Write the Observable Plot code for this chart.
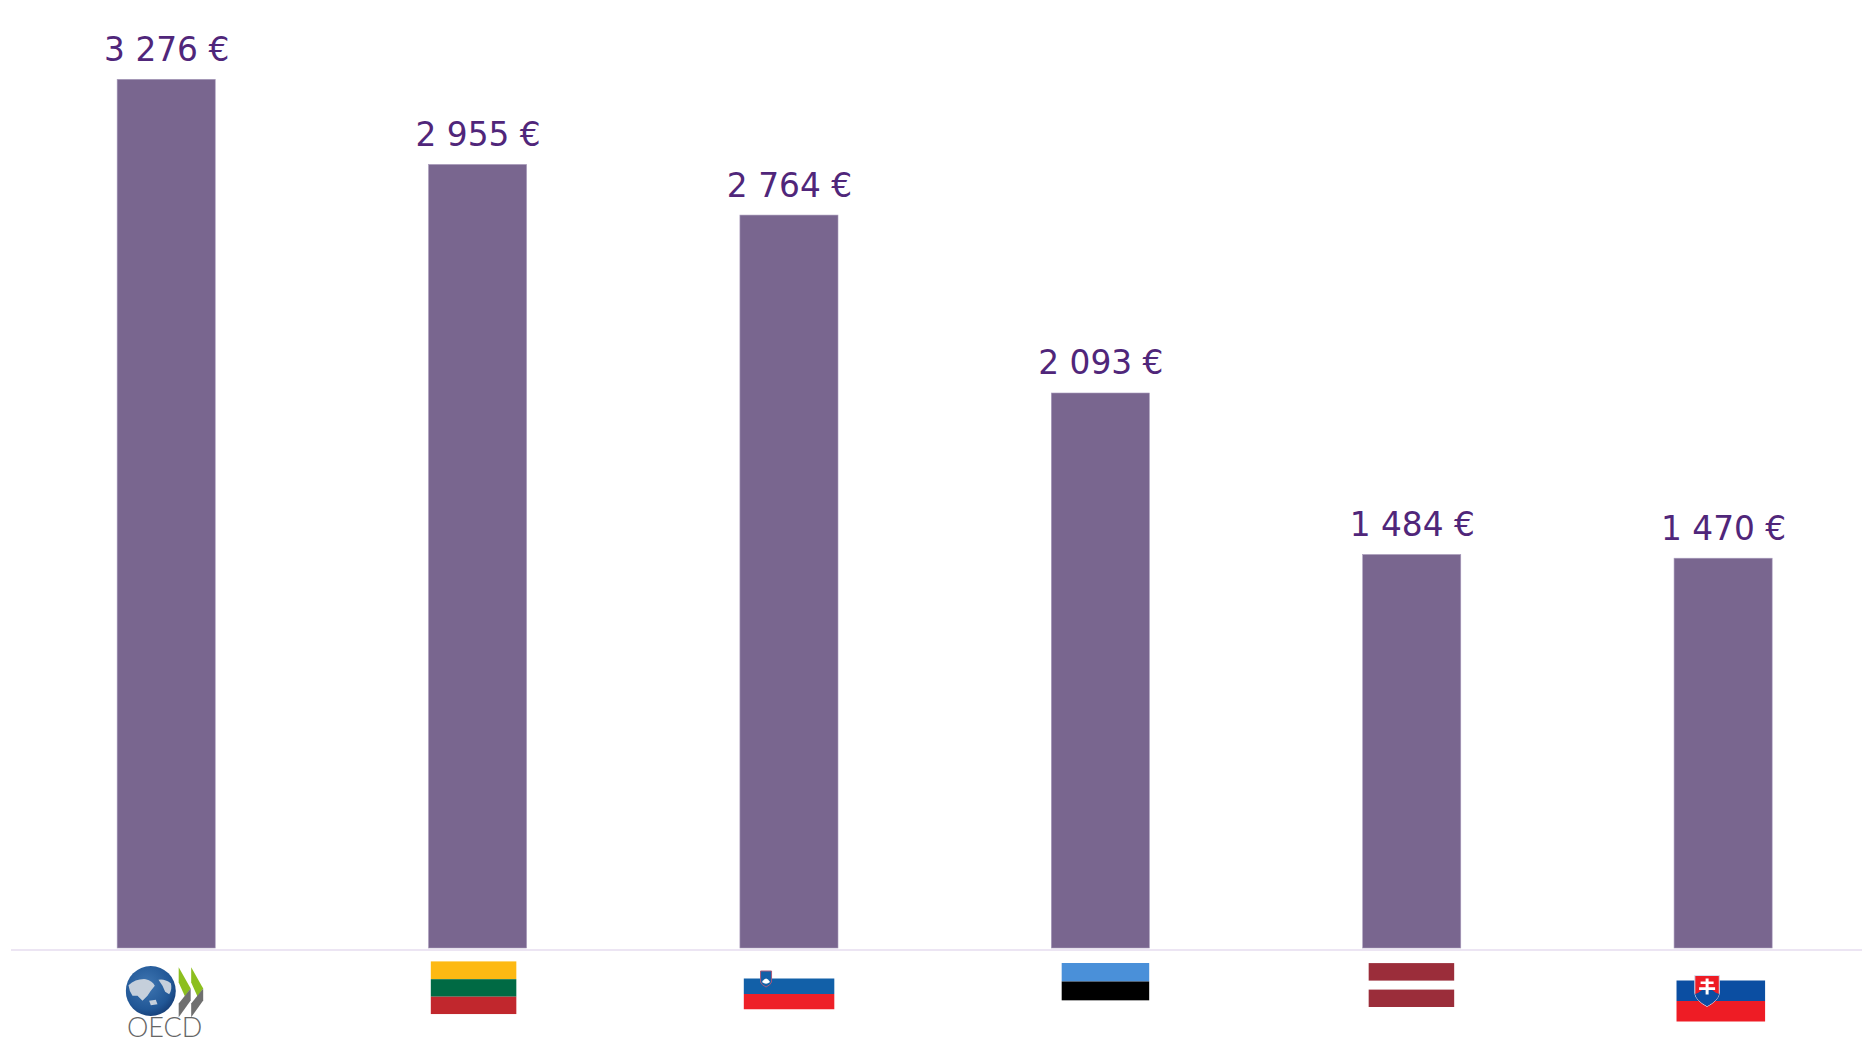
<!DOCTYPE html>
<html><head><meta charset="utf-8">
<script src="https://cdn.jsdelivr.net/npm/d3@7"></script>
<script src="https://cdn.jsdelivr.net/npm/@observablehq/plot@0.6"></script>
<style>html,body{margin:0;padding:0;background:#fff;overflow:hidden}svg{display:block}</style>
</head><body><div id="chart"></div>
<script>
const countries = ["OECD", "Lithuania", "Slovenia", "Estonia", "Latvia", "Slovakia"];
const amounts = [3276, 2955, 2764, 2093, 1484, 1470];
const valueLabels = ["3 276 €", "2 955 €", "2 764 €", "2 093 €", "1 484 €", "1 470 €"];
const table = countries.map((c, i) => ({country: c, amount: amounts[i], label: valueLabels[i]}));

const svgUri = (w, h, body) => "data:image/svg+xml;utf8," + encodeURIComponent(
  `<svg xmlns="http://www.w3.org/2000/svg" width="${w}" height="${h}" viewBox="0 0 ${w} ${h}">${body}</svg>`);
const stripes = (w, rows) => rows.map(([y, h, c]) => `<rect x="0" y="${y}" width="${w}" height="${h}" fill="${c}"/>`).join("");

const pictures = [
  {country: "Lithuania", w: 86, h: 53, dx: -4.5, dy: 39.2, body: stripes(86, [[0, 18, "#FDB913"], [18, 17.5, "#006A44"], [35.5, 17.5, "#C1272D"]])},
  {country: "Slovenia", w: 91, h: 46, dx: -0.4, dy: 38, body: stripes(91, [[0, 15, "#ffffff"], [15, 15.5, "#1260A8"], [30.5, 15.5, "#EE2028"]]) +
    `<path d="M17 7.500h11v11q-1 3-5.500 5q-4.500-2-5.500-5z" fill="#1260A8" stroke="#a65a7c" stroke-width="1"/><path d="M18.500 18.500q4-7 8 0q-4 3.500-8 0z" fill="#fff"/>`},
  {country: "Estonia", w: 88, h: 38, dx: 4.6, dy: 33.5, body: stripes(88, [[0, 18.5, "#4A90D9"], [18.5, 18.5, "#000000"], [37, 1, "#aaaaaa"]])},
  {country: "Latvia", w: 86, h: 44, dx: -0.8, dy: 36.6, body: stripes(86, [[0, 17.5, "#9B2D3A"], [26.5, 17.5, "#9B2D3A"]])},
  {country: "Slovakia", w: 89, h: 64, dx: -2.8, dy: 42.5, body:
    stripes(89, [[21.5, 20.5, "#0B4EA2"], [42, 20.5, "#EE1C25"]]) +
    `<g transform="translate(0.5,1)"><path d="M18 15.500h24.500v18q-1 7-12.250 13q-11.250-6-12.250-13z" fill="#EE1C25" stroke="#d5e0f0" stroke-width="1"/>` +
    `<path d="M18.300 34q4 -1 5.500-3q3-3 6.500 0q3.500-3 6.500 0q1.500 2 5.500 3q-1 6.500-12 12.200q-11-5.700-12-12.200z" fill="#0B4EA2"/>` +
    `<path d="M28.800 18.500h3v3h5v2.600h-5v3.200h6.500v2.600h-6.500v4.500h-3v-4.500h-6.500v-2.600h6.500v-3.200h-5v-2.600h5z" fill="#fff"/></g>`},
  {country: "OECD", w: 80, h: 58, dx: -1.2, dy: 43, body:
    `<defs><radialGradient id="g" cx="42%" cy="38%" r="65%"><stop offset="0" stop-color="#3f76b2"/><stop offset="0.75" stop-color="#215796"/><stop offset="1" stop-color="#173f78"/></radialGradient></defs>` +
    `<circle cx="25.300" cy="28.500" r="25" fill="url(#g)"/>` +
    `<g transform="translate(-3,0) scale(0.3333)" fill="#c5cfdb">` +
    `<path d="M18 68Q40 48 70 50Q90 55 97 70L85 85L75 100L60 115L45 100L30 100Q20 85 18 68z"/>` +
    `<path d="M108 52Q125 48 145 62Q150 80 140 95L128 88L120 70z"/>` +
    `<path d="M80 115L100 112L105 125L85 128z"/></g>` +
    `<path d="M53.200 4.700L65.200 26L59.500 34L53.200 20z" fill="#8cbf1e"/>` +
    `<path d="M65.200 26V38L53.200 54.700V41z" fill="#6f6f6f"/>` +
    `<path d="M65.700 4.700L77.700 26L72 34L65.700 20z" fill="#8cbf1e"/>` +
    `<path d="M77.700 26V38L65.700 54.700V41z" fill="#6f6f6f"/>`},
];

const pictureMarks = pictures.map(p =>
  Plot.image([p.country], {x: d => d, y: () => 0, src: () => svgUri(p.w, p.h, p.body), width: p.w, height: p.h, dx: p.dx, dy: p.dy}));

const chart = Plot.plot({
  width: 1862, height: 1042,
  marginTop: 0, marginRight: 0, marginBottom: 0, marginLeft: 11,
  x: {domain: countries, range: [10.5, 1878.8], round: false, paddingInner: 0.685, paddingOuter: 0.3425, axis: null},
  y: {domain: [0, 3276], range: [948, 79.3], axis: null},
  style: {background: "#fff"},
  marks: [
    Plot.ruleY([0], {stroke: "#ece5f3", strokeWidth: 2, dy: 1.5}),
    Plot.barY(table, {x: "country", y: "amount", fill: "#79668f", stroke: "#a99cbc", strokeWidth: 0.6}),
    Plot.text(table, {x: "country", y: "amount", text: "label", fill: "#50267a", fontFamily: "'DejaVu Sans', Verdana, sans-serif", fontSize: 32.8, lineAnchor: "bottom", dy: -19}),
    ...pictureMarks,
    Plot.text(["OECD"], {x: d => d, y: () => 0, text: d => d, fill: "#666666", fontFamily: "Lato, 'Open Sans', sans-serif", fontWeight: 300, fontSize: 27, lineAnchor: "middle", dx: -2, dy: 79.4})
  ]
});
document.getElementById("chart").appendChild(chart);
</script></body></html>
